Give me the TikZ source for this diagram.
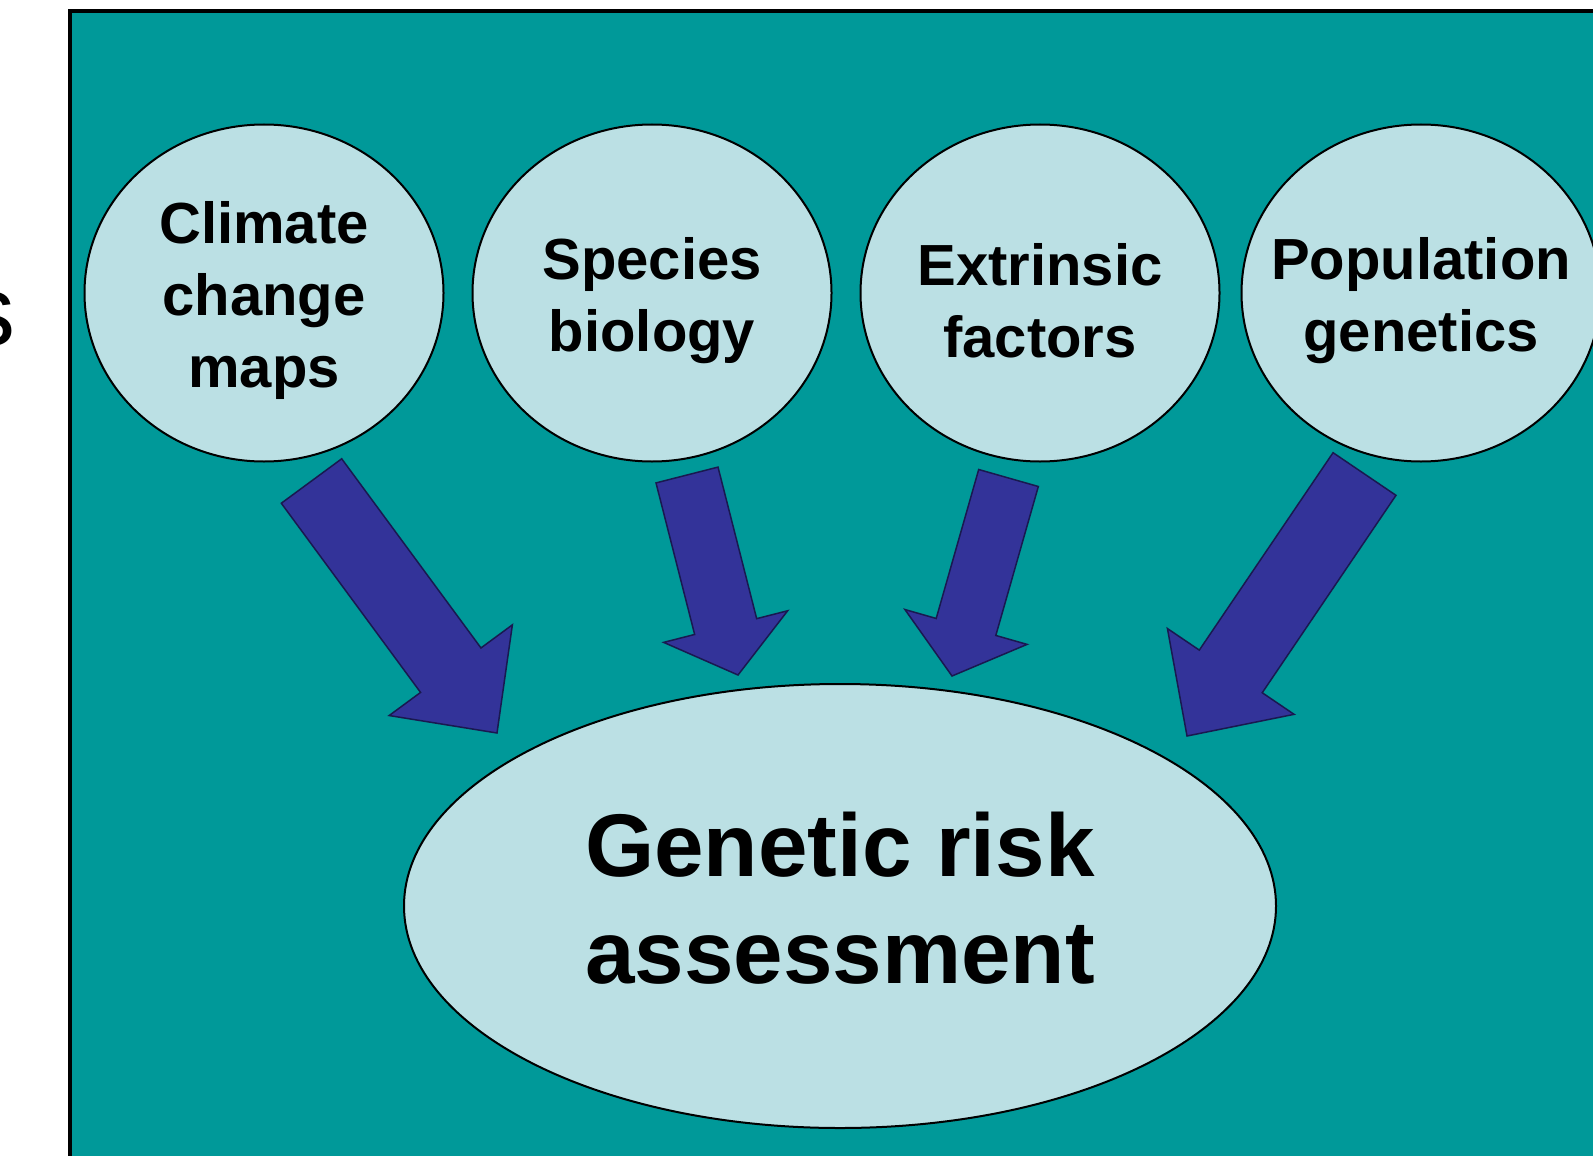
\documentclass[tikz,border=0pt]{standalone}
\usepackage{fontspec}
\setmainfont{Liberation Sans}
\usepackage{tikz}
\usetikzlibrary{positioning}
\usetikzlibrary{shapes.geometric, calc}

\definecolor{slideteal}{RGB}{0,153,153}
\definecolor{bubblefill}{RGB}{187,224,228}
\definecolor{arrowfill}{RGB}{51,51,153}
\definecolor{arrowline}{RGB}{25,25,80}

% block arrow: tail, tip, half shaft, half head, head length
\newcommand{\fatarrow}[5]{%
  \coordinate (hb) at ($(#2)!#5!(#1)$);
  \draw[fatarr] ($(#1)!#3!90:(#2)$) -- ($(hb)!#3!90:(#2)$) -- ($(hb)!#4!90:(#2)$)
    -- (#2) -- ($(hb)!#4!-90:(#2)$) -- ($(hb)!#3!-90:(#2)$) -- ($(#1)!#3!-90:(#2)$) -- cycle;
}

\begin{document}
\begin{tikzpicture}[x=0.5pt, y=-0.5pt]
\tikzstyle{bubble} = [ellipse, draw, line width=1pt, fill=bubblefill, minimum width=179.5pt, minimum height=168.5pt, inner sep=0pt]
\tikzstyle{bubbletext} = [align=center, yshift=-4pt, font=\fontsize{29}{36}\selectfont\bfseries]
\tikzstyle{bigbubble} = [ellipse, draw, line width=1pt, fill=bubblefill, minimum width=436pt, minimum height=222pt, inner sep=0pt]
\tikzstyle{bigtext} = [align=center, yshift=4pt, font=\fontsize{44.5}{53.5}\selectfont\bfseries]
\tikzstyle{fatarr} = [fill=arrowfill, draw=arrowline, line width=0.75pt, line join=miter]

\useasboundingbox (0,0) rectangle (1593,1155);
\clip (0,0) rectangle (1593,1155);

\node (leftover) [anchor=base east, inner sep=0pt, font=\fontsize{50}{60}\selectfont] at (16,345) {s};
\draw [fill=slideteal, line width=2pt] (70,11) rectangle (1660,1220);

\node (climate) [bubble, label={[bubbletext]center:Climate\\change\\maps}] at (264,293) {};
\node (species) [bubble, right=13.5pt of climate, label={[bubbletext]center:Species\\biology}] {};
\node (extrinsic) [bubble, right=13.5pt of species, label={[bubbletext]center:Extrinsic\\factors}] {};
\node (popgen) [bubble, right=10pt of extrinsic, label={[bubbletext]center:Population\\genetics}] {};

\node (risk) [bigbubble, label={[bigtext]center:Genetic risk\\assessment}] at (840,906) {};

\coordinate (t1) at (311.5,481); \coordinate (h1) at (497,733);
\coordinate (t2) at (687,475);   \coordinate (h2) at (738,675);
\coordinate (t3) at (1008.5,478); \coordinate (h3) at (952,676);
\coordinate (t4) at (1364.5,474); \coordinate (h4) at (1187,736);

\fatarrow{t1}{h1}{18.75pt}{38.25pt}{39pt}
\fatarrow{t2}{h2}{16pt}{32pt}{25pt}
\fatarrow{t3}{h3}{15.5pt}{31.75pt}{25.5pt}
\fatarrow{t4}{h4}{19pt}{38.25pt}{39pt}
\end{tikzpicture}
\end{document}
